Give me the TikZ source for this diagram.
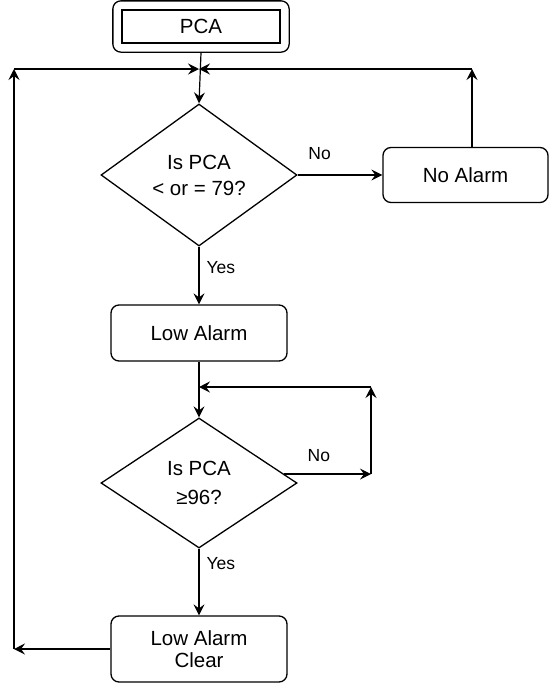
\documentclass[tikz,border=0pt]{standalone}
\usepackage{fontspec}
\setmainfont{Liberation Sans}
\usetikzlibrary{arrows.meta,positioning,fit,calc,shapes.geometric}
\tikzset{
  box/.style={draw=black,line width=1.3pt,rounded corners=8pt,align=center,
    font=\fontsize{20.5}{24}\selectfont,inner sep=0pt},
  decision/.style={diamond,draw=black,line width=1.3pt,align=center,
    font=\fontsize{20.5}{26}\selectfont,inner sep=0pt},
  lbl/.style={font=\fontsize{17.5}{20}\selectfont,inner sep=0pt},
  arr/.style={-{Stealth[length=11pt,width=11pt,inset=4pt]},line width=1.2pt},
}

\begin{document}
\begin{tikzpicture}[x=1pt,y=-1pt]
  \useasboundingbox (0,0) rectangle (553,683);
  % main column
  \node[box,rounded corners=0pt,minimum width=158pt,minimum height=33pt] (pca) at (201,26.5) {PCA};
  \node[box,fit=(pca),inner sep=8.5pt] (pcaframe) {};
  \node[decision,aspect=1.38,minimum width=196pt,minimum height=142pt] (d1) at (199,175) {Is PCA\\< or = 79?};
  \node[box,minimum width=165pt,minimum height=55pt] (noalarm) at (465.5,175) {No Alarm};
  \node[box,minimum width=176pt,minimum height=56pt] (low) at (199,333) {Low Alarm};
  \node[decision,aspect=1.5,minimum width=196pt,minimum height=130pt,
    font=\fontsize{20.5}{29}\selectfont] (d2) at (199,483) {Is PCA\\≥96?};
  \node[box,minimum width=176pt,minimum height=66pt,font=\fontsize{20.5}{22}\selectfont]
    (clear) at (199,649) {Low Alarm\\Clear};
  % corners of the loops
  \coordinate (j1) at (199,69);
  \coordinate (lt) at (14,69);
  \coordinate (rt) at (472,69);
  \coordinate (j2) at (199,387);
  \coordinate (rx) at (371,0);
  \draw[arr] (pcaframe.south) -- (d1.north);
  \draw[arr] (lt) -- (j1);
  \draw[arr] (rt) -- (j1);
  \draw[arr] (d1.east) -- node[lbl,pos=.26,above=15pt]{No} (noalarm.west);
  \draw[arr] (noalarm.north -| rt) -- (rt);
  \draw[arr] (d1.south) -- node[lbl,pos=.37,right=7pt]{Yes} (low.north);
  \draw[arr] (low.south) -- (d2.north);
  \draw[arr] (d2.6) -- node[lbl,pos=.4,above=12pt]{No} (d2.6 -| rx) coordinate (rb);
  \draw[arr] (rb) -- (rb |- j2) coordinate (rtop);
  \draw[arr] (rtop) -- (j2);
  \draw[arr] (d2.south) -- node[lbl,pos=.22,right=7pt]{Yes} (clear.north);
  \draw[arr] (clear.west) -- (clear.west -| lt) coordinate (lb);
  \draw[arr] (lb) -- (lt);
\end{tikzpicture}
\end{document}
